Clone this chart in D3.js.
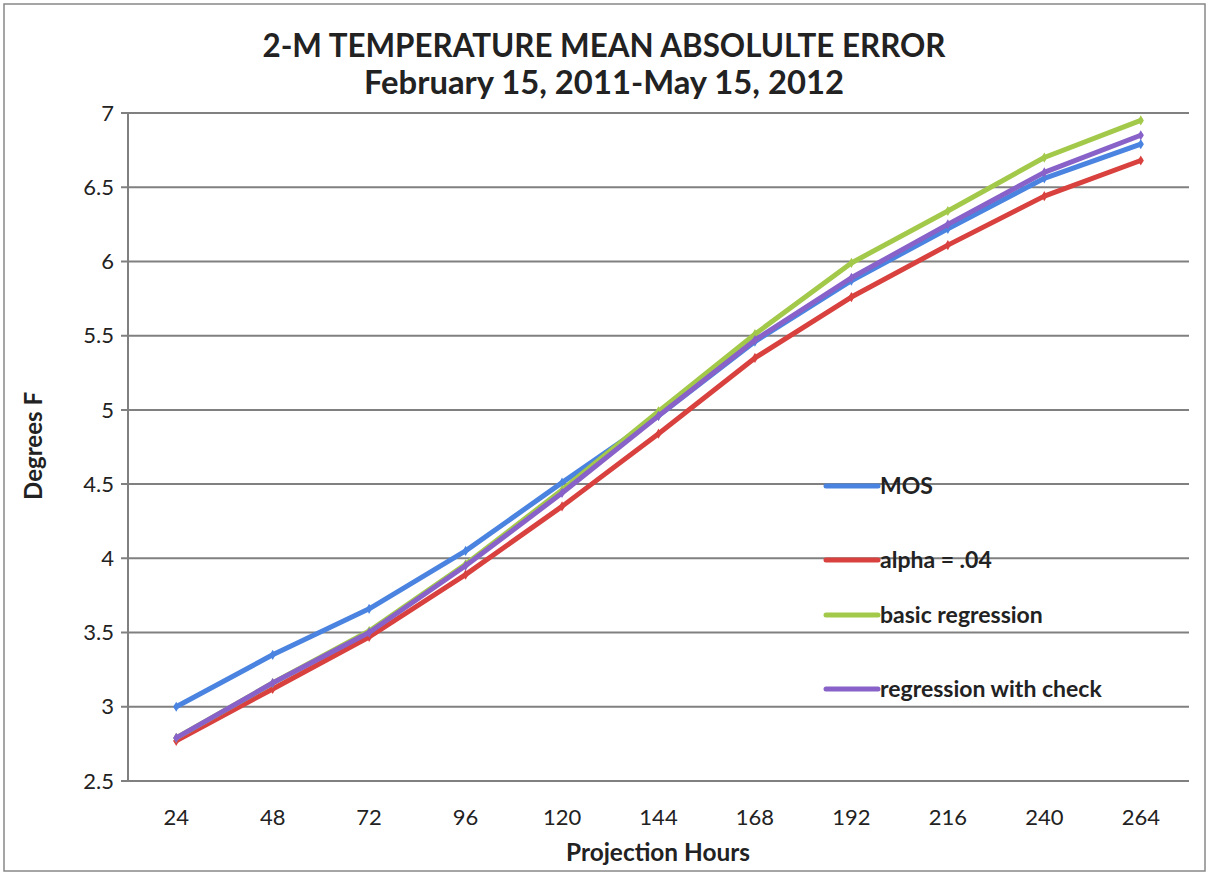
<!DOCTYPE html>
<html>
<head>
<meta charset="utf-8">
<script src="https://cdn.jsdelivr.net/npm/d3@7"></script>
<style>
  body { margin: 0; background: #fff; }
  text { font-family: Lato, "Open Sans", "DejaVu Sans", sans-serif; fill: #222; }
</style>
</head>
<body>
<svg id="chart" width="1209" height="875"></svg>
<script>
const hours = ["24", "48", "72", "96", "120", "144", "168", "192", "216", "240", "264"];
const yTicks = [2.5, 3, 3.5, 4, 4.5, 5, 5.5, 6, 6.5, 7];
const seriesNames = ["MOS", "alpha = .04", "basic regression", "regression with check"];
const mos = [3.00, 3.35, 3.66, 4.05, 4.51, 4.96, 5.46, 5.87, 6.22, 6.56, 6.79];
const alpha04 = [2.77, 3.12, 3.47, 3.89, 4.35, 4.84, 5.35, 5.76, 6.11, 6.44, 6.68];
const basicReg = [2.79, 3.16, 3.51, 3.96, 4.46, 4.99, 5.51, 5.99, 6.34, 6.70, 6.95];
const regCheck = [2.79, 3.16, 3.50, 3.95, 4.44, 4.96, 5.47, 5.89, 6.25, 6.60, 6.85];
const colors = ["#4a84e0", "#d8413e", "#a3c94a", "#8862c8"];

const series = [mos, alpha04, basicReg, regCheck].map((vals, i) => ({
  name: seriesNames[i],
  color: colors[i],
  values: vals.map((v, j) => ({ hour: hours[j], value: v }))
}));

const svg = d3.select("#chart"),
      width = +svg.attr("width"),
      height = +svg.attr("height"),
      margin = { top: 113, right: 20, bottom: 94, left: 128 };

// outer frame
svg.append("rect")
  .attr("x", 4).attr("y", 4)
  .attr("width", width - 8).attr("height", height - 8)
  .attr("fill", "none")
  .attr("stroke", "#888")
  .attr("stroke-width", 1.5);

const x = d3.scalePoint()
  .domain(hours)
  .range([margin.left, width - margin.right])
  .padding(0.5);

const y = d3.scaleLinear()
  .domain([2.5, 7])
  .range([height - margin.bottom, margin.top]);

// gridlines + y ticks
svg.selectAll(".grid")
  .data(yTicks)
  .join("line")
    .attr("class", "grid")
    .attr("x1", margin.left - 7)
    .attr("x2", width - margin.right)
    .attr("y1", d => y(d))
    .attr("y2", d => y(d))
    .attr("stroke", "#808080")
    .attr("stroke-width", 2);

svg.append("line")
  .attr("x1", margin.left).attr("x2", margin.left)
  .attr("y1", y(7)).attr("y2", y(2.5))
  .attr("stroke", "#808080")
  .attr("stroke-width", 2);

svg.selectAll(".ytick")
  .data(yTicks)
  .join("text")
    .attr("class", "ytick")
    .attr("x", margin.left - 14)
    .attr("y", d => y(d))
    .attr("dy", "0.35em")
    .attr("text-anchor", "end")
    .style("font-size", "22px")
    .text(d => d);

svg.selectAll(".xtick")
  .data(hours)
  .join("text")
    .attr("class", "xtick")
    .attr("x", d => x(d))
    .attr("y", 817)
    .attr("dy", "0.35em")
    .attr("text-anchor", "middle")
    .style("font-size", "22px")
    .text(d => d);

// titles
svg.append("text")
  .attr("x", 604).attr("y", 57)
  .attr("text-anchor", "middle")
  .attr("textLength", 683)
  .attr("lengthAdjust", "spacingAndGlyphs")
  .style("font-size", "32px")
  .style("font-weight", "bold")
  .text("2-M TEMPERATURE MEAN ABSOLULTE ERROR");

svg.append("text")
  .attr("x", 604).attr("y", 94)
  .attr("text-anchor", "middle")
  .attr("textLength", 480)
  .attr("lengthAdjust", "spacingAndGlyphs")
  .style("font-size", "32px")
  .style("font-weight", "bold")
  .text("February 15, 2011-May 15, 2012");

svg.append("text")
  .attr("x", 658).attr("y", 852)
  .attr("dy", "0.35em")
  .attr("text-anchor", "middle")
  .attr("textLength", 184)
  .attr("lengthAdjust", "spacingAndGlyphs")
  .style("font-size", "25px")
  .style("font-weight", "bold")
  .text("Projection Hours");

svg.append("text")
  .attr("transform", "translate(33,446) rotate(-90)")
  .attr("dy", "0.35em")
  .attr("text-anchor", "middle")
  .attr("textLength", 108)
  .attr("lengthAdjust", "spacingAndGlyphs")
  .style("font-size", "25px")
  .style("font-weight", "bold")
  .text("Degrees F");

// lines
const line = d3.line()
  .x(d => x(d.hour))
  .y(d => y(d.value));

series.forEach(s => {
  svg.append("path")
    .datum(s.values)
    .attr("fill", "none")
    .attr("stroke", s.color)
    .attr("stroke-width", 5)
    .attr("stroke-linejoin", "round")
    .attr("stroke-linecap", "round")
    .attr("d", line);

  svg.selectAll(null)
    .data(s.values)
    .join("path")
      .attr("transform", d => `translate(${x(d.hour)},${y(d.value)})`)
      .attr("d", d3.symbol(d3.symbolDiamond, 30))
      .attr("fill", s.color);
});

// legend
const legendY = [486, 560, 615, 689];
const legend = svg.selectAll(".legend")
  .data(series)
  .join("g")
    .attr("class", "legend")
    .attr("transform", (d, i) => `translate(826,${legendY[i]})`);

legend.append("line")
  .attr("x1", 0).attr("x2", 52)
  .attr("stroke", d => d.color)
  .attr("stroke-width", 5)
  .attr("stroke-linecap", "round");

legend.append("text")
  .attr("x", 54)
  .attr("dy", "0.35em")
  .style("font-size", "23px")
  .style("font-weight", "bold")
  .text(d => d.name);
</script>
</body>
</html>
